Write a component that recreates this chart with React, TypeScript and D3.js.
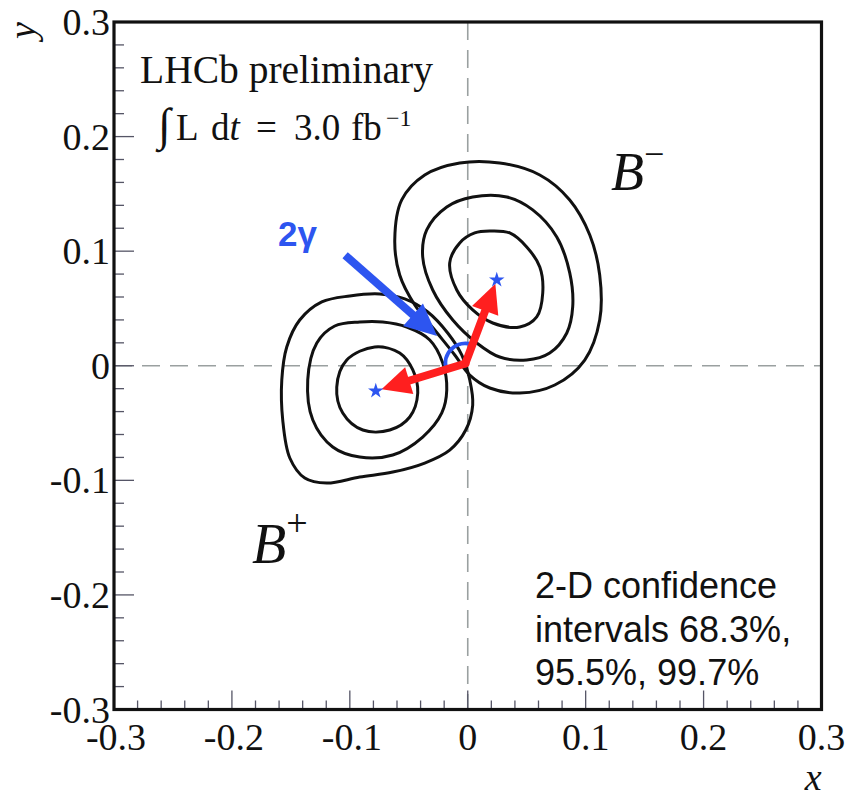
import React from "react";
import * as d3 from "d3";

// Axis setup
const X_DOMAIN = [-0.3, 0.3];
const Y_DOMAIN = [-0.3, 0.3];
const MAJOR_TICKS = [-0.3, -0.2, -0.1, 0, 0.1, 0.2, 0.3];
const TICK_LABELS = ["-0.3", "-0.2", "-0.1", "0", "0.1", "0.2", "0.3"];

// Best-fit points
const B_MINUS_FIT: [number, number] = [0.0246, 0.0749];
const B_PLUS_FIT: [number, number] = [-0.078, -0.022];
const ORIGIN_POINT: [number, number] = [-0.002, 0.002];

// 2-D confidence contours (x, y), 68.3%, 95.5%, 99.7%
const B_PLUS_68: [number, number][] = [
  [-0.0789, 0.0164], [-0.0577, 0.0111], [-0.0466, -0.0037], [-0.0424, -0.0238],
  [-0.0492, -0.0447], [-0.0661, -0.0561], [-0.089, -0.0561], [-0.106, -0.0412],
  [-0.1111, -0.0186], [-0.1026, 0.005],
];
const B_PLUS_95: [number, number][] = [
  [-0.0916, 0.0382], [-0.0721, 0.0382], [-0.0517, 0.0338], [-0.0322, 0.0225],
  [-0.0212, 0.0024], [-0.0178, -0.0212], [-0.022, -0.0412], [-0.0382, -0.0622],
  [-0.0636, -0.0779], [-0.0916, -0.0797], [-0.1145, -0.0709], [-0.1314, -0.0474],
  [-0.1357, -0.0124], [-0.128, 0.0199], [-0.1128, 0.0347],
];
const B_PLUS_99: [number, number][] = [
  [-0.1001, 0.0609], [-0.0746, 0.0626], [-0.0534, 0.0583], [-0.0339, 0.0469],
  [-0.017, 0.0286], [-0.0051, 0.0094], [0.0017, -0.0124], [0.0042, -0.0343],
  [-0.0017, -0.0561], [-0.0153, -0.0736], [-0.0365, -0.0849], [-0.0636, -0.0928],
  [-0.0916, -0.0971], [-0.1196, -0.1024], [-0.1382, -0.098], [-0.1509, -0.0805],
  [-0.1569, -0.0474], [-0.1577, -0.0124], [-0.1535, 0.0164], [-0.1425, 0.0399],
  [-0.1238, 0.0557],
];
const B_MINUS_68: [number, number][] = [
  [0.0187, 0.1176], [0.0356, 0.1159], [0.05, 0.1037], [0.0611, 0.0862],
  [0.0636, 0.0635], [0.0585, 0.0426], [0.0441, 0.0338], [0.0212, 0.0373],
  [0.0042, 0.0487], [-0.0093, 0.0661], [-0.0153, 0.0897], [-0.0068, 0.1072],
  [0.0059, 0.1159],
];
const B_MINUS_95: [number, number][] = [
  [0.0042, 0.1473], [0.0331, 0.1473], [0.0551, 0.136], [0.0755, 0.1124],
  [0.0865, 0.081], [0.089, 0.0513], [0.084, 0.0286], [0.0695, 0.0111],
  [0.05, 0.005], [0.0271, 0.0076], [0.0076, 0.0199], [-0.0127, 0.0399],
  [-0.0297, 0.0661], [-0.0382, 0.0949], [-0.0348, 0.1185], [-0.0178, 0.1386],
];
const B_MINUS_99: [number, number][] = [
  [-0.0068, 0.177], [0.0271, 0.177], [0.0611, 0.1665], [0.0865, 0.1447],
  [0.1035, 0.1141], [0.1119, 0.0792], [0.1119, 0.0399], [0.0992, 0.005],
  [0.0738, -0.0168], [0.0441, -0.0238], [0.0187, -0.0194], [0.0017, -0.0081],
  [-0.011, 0.0094], [-0.028, 0.0312], [-0.0449, 0.053], [-0.0577, 0.0792],
  [-0.0619, 0.1098], [-0.056, 0.1447], [-0.0365, 0.1665],
];
const CONTOURS = [B_PLUS_68, B_PLUS_95, B_PLUS_99, B_MINUS_68, B_MINUS_95, B_MINUS_99];

// 2γ pointer arrow
const GAMMA_ARROW: [number, number][] = [[-0.104, 0.0965], [-0.026, 0.026]];

const W = 848;
const H = 798;
const LEFT = 114;
const RIGHT = 821.5;
const TOP = 22;
const BOTTOM = 709.5;

const x = d3.scaleLinear().domain(X_DOMAIN).range([LEFT, RIGHT]);
const y = d3.scaleLinear().domain(Y_DOMAIN).range([BOTTOM, TOP]);

const SERIF = "'Liberation Serif', 'Times New Roman', serif";
const SANS = "'Liberation Sans', Arial, sans-serif";
const RED = "#ff1f1f";
const BLUE = "#2d55f0";

function arrowPath(
  from: [number, number],
  to: [number, number],
  headLen: number,
  halfW: number,
  trim: number
) {
  const x0 = x(from[0]);
  const y0 = y(from[1]);
  let x1 = x(to[0]);
  let y1 = y(to[1]);
  const dx = x1 - x0;
  const dy = y1 - y0;
  const len = Math.hypot(dx, dy);
  const ux = dx / len;
  const uy = dy / len;
  x1 -= ux * trim;
  y1 -= uy * trim;
  const bx = x1 - ux * headLen;
  const by = y1 - uy * headLen;
  const px = -uy;
  const py = ux;
  return {
    shaft: [x0, y0, bx + ux * 2, by + uy * 2],
    head: `M${x1},${y1}L${bx + px * halfW},${by + py * halfW}L${bx - px * halfW},${by - py * halfW}Z`,
  };
}

export default function App() {
  const line = d3
    .line<[number, number]>()
    .x((d) => x(d[0]))
    .y((d) => y(d[1]))
    .curve(d3.curveCatmullRomClosed.alpha(0.5));

  const minor = d3.range(-15, 16).filter((i) => i % 5 !== 0).map((i) => i * 0.02);

  const star = d3.symbol().type(d3.symbolStar).size(75)();

  const redMinus = arrowPath(ORIGIN_POINT, B_MINUS_FIT, 29, 14, 4);
  const redPlus = arrowPath(ORIGIN_POINT, B_PLUS_FIT, 29, 14, 6);
  const blue = arrowPath(GAMMA_ARROW[0], GAMMA_ARROW[1], 32, 15, 0);

  // angle marker between the two vectors
  const ox = x(ORIGIN_POINT[0]);
  const oy = y(ORIGIN_POINT[1]);
  const aMinus = Math.atan2(y(B_MINUS_FIT[1]) - oy, x(B_MINUS_FIT[0]) - ox);
  const aPlus = Math.atan2(y(B_PLUS_FIT[1]) - oy, x(B_PLUS_FIT[0]) - ox);
  const r = 20;
  const arcD = `M${ox + r * Math.cos(aPlus)},${oy + r * Math.sin(aPlus)}A${r},${r} 0 0 1 ${
    ox + r * Math.cos(aMinus)
  },${oy + r * Math.sin(aMinus)}`;

  return (
    <svg
      width={W}
      height={H}
      style={{ position: "absolute", left: 0, top: 0, background: "#fff" }}
    >
      {/* zero lines */}
      <line x1={x(0)} x2={x(0)} y1={TOP} y2={BOTTOM} stroke="#9aa0a0" strokeWidth={1.6} strokeDasharray="18,10" />
      <line x1={LEFT} x2={RIGHT} y1={y(0)} y2={y(0)} stroke="#9aa0a0" strokeWidth={1.6} strokeDasharray="18,10" />

      {/* ticks */}
      {MAJOR_TICKS.map((t) => (
        <g key={"M" + t} stroke="#556" strokeWidth={1.3}>
          <line x1={LEFT} x2={LEFT + 20} y1={y(t)} y2={y(t)} />
          <line x1={x(t)} x2={x(t)} y1={BOTTOM} y2={BOTTOM - 19} />
        </g>
      ))}
      {minor.map((t) => (
        <g key={"m" + t} stroke="#556" strokeWidth={1.3}>
          <line x1={LEFT} x2={LEFT + 10} y1={y(t)} y2={y(t)} />
          <line x1={x(t)} x2={x(t)} y1={BOTTOM} y2={BOTTOM - 9} />
        </g>
      ))}

      {/* contours */}
      {CONTOURS.map((c, i) => (
        <path key={i} d={line(c) || ""} fill="none" stroke="#111" strokeWidth={3} />
      ))}

      {/* frame */}
      <rect x={LEFT} y={TOP} width={RIGHT - LEFT} height={BOTTOM - TOP} fill="none" stroke="#111" strokeWidth={3.2} />

      {/* tick labels */}
      {MAJOR_TICKS.map((t, i) => (
        <text key={"yl" + t} x={LEFT - 4} y={y(t) + 13} textAnchor="end" fontFamily={SERIF} fontSize={38} fill="#111">
          {TICK_LABELS[i]}
        </text>
      ))}
      {MAJOR_TICKS.map((t, i) => (
        <text key={"xl" + t} x={x(t) + (t < 0 ? 2 : 0)} y={750} textAnchor="middle" fontFamily={SERIF} fontSize={38} fill="#111">
          {TICK_LABELS[i]}
        </text>
      ))}
      <text x={RIGHT} y={790} textAnchor="end" fontFamily={SERIF} fontStyle="italic" fontSize={38} fill="#111">x</text>
      <text transform="translate(35,22) rotate(-90)" textAnchor="end" fontFamily={SERIF} fontStyle="italic" fontSize={38} fill="#111">y</text>

      {/* arrows */}
      <line x1={blue.shaft[0]} y1={blue.shaft[1]} x2={blue.shaft[2]} y2={blue.shaft[3]} stroke={BLUE} strokeWidth={8} />
      <path d={blue.head} fill={BLUE} />
      <path d={arcD} fill="none" stroke={BLUE} strokeWidth={4} />
      <line x1={redMinus.shaft[0]} y1={redMinus.shaft[1]} x2={redMinus.shaft[2]} y2={redMinus.shaft[3]} stroke={RED} strokeWidth={8} strokeLinecap="round" />
      <path d={redMinus.head} fill={RED} />
      <line x1={redPlus.shaft[0]} y1={redPlus.shaft[1]} x2={redPlus.shaft[2]} y2={redPlus.shaft[3]} stroke={RED} strokeWidth={8} strokeLinecap="round" />
      <path d={redPlus.head} fill={RED} />

      {/* best-fit stars */}
      {[B_MINUS_FIT, B_PLUS_FIT].map((p, i) => (
        <path key={i} d={star || ""} transform={`translate(${x(p[0])},${y(p[1])})`} fill={BLUE} />
      ))}

      {/* labels */}
      <text x={140} y={83} fontFamily={SERIF} fontSize={39.5} fill="#111">LHCb preliminary</text>
      <g fontFamily={SERIF} fontSize={37} fill="#111">
        <text x={158} y={140} fontSize={46} fontStyle="italic">∫</text>
        <text x={176} y={140}>L</text>
        <text x={211} y={140}>d<tspan fontStyle="italic">t</tspan></text>
        <text x={256} y={140}>=</text>
        <text x={294} y={140}>3.0</text>
        <text x={351} y={140}>fb</text>
        <text x={386} y={126} fontSize={24}>−1</text>
      </g>
      <text x={278} y={246} fontFamily={SANS} fontWeight="bold" fontSize={35} fill={BLUE}>2γ</text>
      <text x={611} y={190} fontFamily={SERIF} fontStyle="italic" fontSize={54} fill="#111">
        B<tspan dy={-24} fontSize={36} fontStyle="normal">−</tspan>
      </text>
      <text x={252} y={563} fontFamily={SERIF} fontStyle="italic" fontSize={56} fill="#111">
        B<tspan dy={-27} fontSize={38} fontStyle="normal">+</tspan>
      </text>
      <g fontFamily={SANS} fontSize={36} fill="#111">
        <text x={535} y={598}>2-D confidence</text>
        <text x={535} y={642}>intervals 68.3%,</text>
        <text x={535} y={685}>95.5%, 99.7%</text>
      </g>
    </svg>
  );
}
